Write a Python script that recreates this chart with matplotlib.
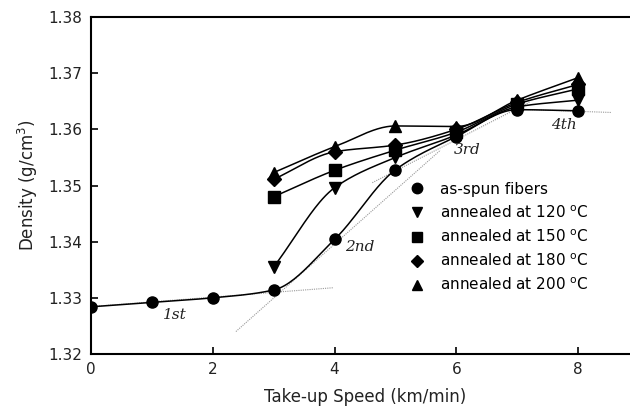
"""Density vs take-up speed for as-spun and annealed fibers."""

import matplotlib
matplotlib.use("Agg")
import matplotlib.pyplot as plt
from matplotlib.lines import Line2D
import numpy as np

# --- data ---
speed_spun = [0, 1, 2, 3, 4, 5, 6, 7, 8]
density_spun = [1.3284, 1.3292, 1.3300, 1.3314, 1.3404, 1.3528, 1.3587, 1.3635, 1.3633]

speed_ann = [3, 4, 5, 6, 7, 8]
density_120 = [1.3355, 1.3496, 1.3550, 1.3590, 1.3640, 1.3652]
density_150 = [1.3480, 1.3527, 1.3563, 1.3595, 1.3645, 1.3672]
density_180 = [1.3511, 1.3560, 1.3572, 1.3600, 1.3648, 1.3680]
density_200 = [1.3523, 1.3569, 1.3606, 1.3605, 1.3652, 1.3692]

series_labels = [
    "as-spun fibers",
    "annealed at 120 $^{\\rm o}$C",
    "annealed at 150 $^{\\rm o}$C",
    "annealed at 180 $^{\\rm o}$C",
    "annealed at 200 $^{\\rm o}$C",
]
series_markers = ["o", "v", "s", "D", "^"]

# stage tangent lines: (x0, x1), (y0, y1)
tangent_x = [(-0.05, 3.98), (2.38, 5.74), (4.62, 7.20), (6.95, 8.55)]
tangent_y = [(1.3284, 1.3318), (1.3240, 1.3563), (1.3505, 1.3648), (1.3636, 1.3630)]

stage_labels = ["1st", "2nd", "3rd", "4th"]
stage_x = [1.38, 4.42, 6.18, 7.77]
stage_y = [1.3270, 1.3390, 1.3563, 1.3608]


def pchip(x, y, n=200):
    # monotone cubic through the points, one-sided slopes at the ends
    x = np.asarray(x, float)
    y = np.asarray(y, float)
    h = np.diff(x)
    delta = np.diff(y) / h
    d = np.zeros_like(y)
    for k in range(1, len(x) - 1):
        if delta[k - 1] * delta[k] > 0:
            w1 = 2 * h[k] + h[k - 1]
            w2 = h[k] + 2 * h[k - 1]
            d[k] = (w1 + w2) / (w1 / delta[k - 1] + w2 / delta[k])
    d[0] = delta[0]
    d[-1] = delta[-1]
    xs = np.linspace(x[0], x[-1], n)
    idx = np.clip(np.searchsorted(x, xs) - 1, 0, len(x) - 2)
    t = (xs - x[idx]) / h[idx]
    h00 = 2 * t**3 - 3 * t**2 + 1
    h10 = t**3 - 2 * t**2 + t
    h01 = -2 * t**3 + 3 * t**2
    h11 = t**3 - t**2
    ys = (h00 * y[idx] + h10 * h[idx] * d[idx]
          + h01 * y[idx + 1] + h11 * h[idx] * d[idx + 1])
    return xs, ys


def main() -> None:
    fig = plt.figure(figsize=(6.3, 4.17), dpi=100)
    ax = fig.add_axes([91 / 630, 63 / 417, 548 / 630, 337 / 417])

    for (x0, x1), (y0, y1) in zip(tangent_x, tangent_y):
        ax.plot([x0, x1], [y0, y1], color="#999999", lw=0.8,
                linestyle=(0, (1, 1)), zorder=1)

    all_x = [speed_spun] + [speed_ann] * 4
    all_y = [density_spun, density_120, density_150, density_180, density_200]
    for xs, ys, m in zip(all_x, all_y, series_markers):
        cx, cy = pchip(xs, ys)
        ax.plot(cx, cy, color="black", lw=1.1, zorder=2)
        ms = 7 if m == "D" else 8
        ax.plot(xs, ys, linestyle="none", marker=m, ms=ms, color="black", zorder=3)

    for lab, sx, sy in zip(stage_labels, stage_x, stage_y):
        ax.text(sx, sy, lab, fontsize=11, family="DejaVu Serif", style="italic",
                ha="center", va="center", color="#222222")

    handles = [Line2D([], [], linestyle="none", marker=m, ms=(6.5 if m == "D" else 7.5),
                      color="black") for m in series_markers]
    ax.legend(handles, series_labels, loc="upper left", bbox_to_anchor=(0.57, 0.53),
              frameon=False, fontsize=11, handletextpad=1.0, labelspacing=0.5,
              handlelength=1.0, borderaxespad=0)

    ax.set_xlim(0, 9)
    ax.set_ylim(1.32, 1.38)
    ax.set_xticks([0, 2, 4, 6, 8])
    ax.set_yticks([1.32, 1.33, 1.34, 1.35, 1.36, 1.37, 1.38])
    ax.set_yticklabels(["1.32", "1.33", "1.34", "1.35", "1.36", "1.37", "1.38"])
    ax.tick_params(direction="in", length=5, width=1.2, labelsize=11,
                   labelcolor="#222222", pad=6)
    for side in ["left", "bottom", "top"]:
        ax.spines[side].set_linewidth(1.5)
    ax.spines["right"].set_visible(False)

    ax.set_xlabel("Take-up Speed (km/min)", fontsize=12, color="#222222", labelpad=8)
    ax.set_ylabel("Density (g/cm$^3$)", fontsize=12, color="#222222", labelpad=6)

    fig.savefig("out.png", dpi=100)
    plt.close(fig)


if __name__ == "__main__":
    main()
